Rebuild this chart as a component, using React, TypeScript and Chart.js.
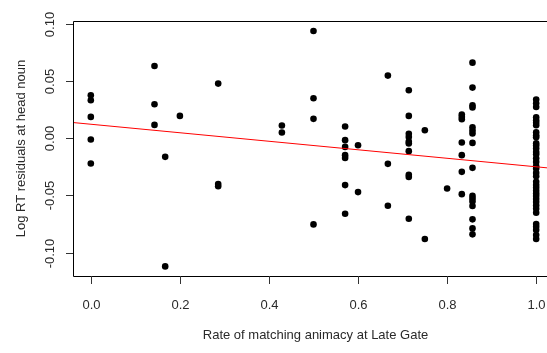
import React, { useEffect, useRef } from "react";
import { Chart, registerables } from "chart.js";

Chart.register(...registerables);

// Data
const xGroups = [0, 0.143, 0.167, 0.2, 0.286, 0.429, 0.5, 0.571, 0.6, 0.667, 0.714, 0.75, 0.8, 0.833, 0.857, 1.0];
const yGroups: number[][] = [
  [0.0375, 0.0332, 0.0186, -0.0011, -0.0221],
  [0.0631, 0.0297, 0.0116],
  [-0.0163, -0.112],
  [0.0195],
  [0.0477, -0.04, -0.042],
  [0.0111, 0.005],
  [0.0936, 0.0349, 0.0169, -0.0753],
  [0.0102, -0.0017, -0.0076, -0.0148, -0.0172, -0.041, -0.066],
  [-0.0061, -0.0471],
  [0.0547, -0.0224, -0.059],
  [0.0419, 0.0195, 0.0038, 0.0011, -0.003, -0.0046, -0.0113, -0.032, -0.0338, -0.0704],
  [0.007, -0.0881],
  [-0.0439],
  [0.0207, 0.0186, 0.0166, -0.0038, -0.0148, -0.0294, -0.0489],
  [0.066, 0.0442, 0.0288, 0.0268, 0.0096, 0.0067, 0.0041, -0.0041, -0.0259, -0.0503, -0.0526, -0.0552, -0.0593, -0.0709, -0.0788, -0.084],
  [0.0338, 0.0305, 0.0273, 0.0183, 0.0157, 0.0134, 0.0113, 0.0052, 0.0026, 0.0009, -0.0044, -0.0064, -0.009, -0.012, -0.014, -0.0175, -0.0207, -0.0244, -0.0264, -0.0303, -0.0332, -0.0381, -0.041, -0.0434, -0.046, -0.0483, -0.0506, -0.0532, -0.0558, -0.0587, -0.0617, -0.0652, -0.075, -0.0774, -0.0803, -0.0846, -0.0881],
];
const fitIntercept = 0.0122;
const fitSlope = -0.0372;

const xTicks = [0, 0.2, 0.4, 0.6, 0.8, 1.0];
const xTickLabels = ["0.0", "0.2", "0.4", "0.6", "0.8", "1.0"];
const yTicks = [-0.1, -0.05, 0, 0.05, 0.1];
const yTickLabels = ["-0.10", "-0.05", "0.00", "0.05", "0.10"];
const xTitle = "Rate of matching animacy at Late Gate";
const yTitle = "Log RT residuals at head noun";

const X_MIN = -0.04;
const X_MAX = 1.04;
const Y_MIN = -0.1204;
const Y_MAX = 0.1024;

const FONT = '13px "Liberation Sans", Arial, sans-serif';
const TEXT_COLOR = "#2a2a2a";

const axesPlugin = {
  id: "rAxes",
  afterDraw(chart: any) {
    const { ctx, chartArea, scales } = chart;
    const xs = scales.x;
    const ys = scales.y;
    ctx.save();
    // box
    ctx.strokeStyle = "#000";
    ctx.lineWidth = 1;
    ctx.beginPath();
    ctx.rect(Math.round(chartArea.left) + 0.5, Math.round(chartArea.top) + 0.5, chartArea.right - chartArea.left, chartArea.bottom - chartArea.top);
    ctx.stroke();

    ctx.strokeStyle = "#333";
    ctx.fillStyle = TEXT_COLOR;
    ctx.font = FONT;
    // x ticks
    ctx.textAlign = "center";
    ctx.textBaseline = "middle";
    xTicks.forEach((v, i) => {
      const px = Math.round(xs.getPixelForValue(v)) + 0.5;
      ctx.beginPath();
      ctx.moveTo(px, chartArea.bottom);
      ctx.lineTo(px, chartArea.bottom + 8);
      ctx.stroke();
      ctx.fillText(xTickLabels[i], px, 305);
    });
    // y ticks
    yTicks.forEach((v, i) => {
      const py = Math.round(ys.getPixelForValue(v)) + 0.5;
      ctx.beginPath();
      ctx.moveTo(chartArea.left, py);
      ctx.lineTo(chartArea.left - 7, py);
      ctx.stroke();
      ctx.save();
      ctx.translate(50, py);
      ctx.rotate(-Math.PI / 2);
      ctx.fillText(yTickLabels[i], 0, 0);
      ctx.restore();
    });
    // titles
    ctx.fillText(xTitle, (xs.getPixelForValue(0) + xs.getPixelForValue(1)) / 2 + 2, 335);
    ctx.save();
    ctx.translate(21, (chartArea.top + chartArea.bottom) / 2);
    ctx.rotate(-Math.PI / 2);
    ctx.fillText(yTitle, 0, 0);
    ctx.restore();
    ctx.restore();
  },
};

export default function App() {
  const ref = useRef<HTMLCanvasElement>(null);
  useEffect(() => {
    document.body.style.margin = "0";
    const points: { x: number; y: number }[] = [];
    xGroups.forEach((x, i) => yGroups[i].forEach((y) => points.push({ x, y })));
    const lineData = [X_MIN, X_MAX].map((x) => ({ x, y: fitIntercept + fitSlope * x }));
    const chart = new Chart(ref.current!, {
      type: "scatter",
      data: {
        datasets: [
          {
            type: "line",
            data: lineData,
            borderColor: "#ff0000",
            borderWidth: 1,
            pointRadius: 0,
            order: 0,
          } as any,
          {
            data: points,
            backgroundColor: "#000",
            borderColor: "#000",
            pointRadius: 3.3,
            borderWidth: 0,
            order: 1,
          },
        ],
      },
      options: {
        animation: false,
        responsive: false,
        events: [],
        layout: { padding: { left: 73, top: 21, right: 6, bottom: 77 } },
        plugins: { legend: { display: false }, tooltip: { enabled: false } },
        scales: {
          x: { type: "linear", min: X_MIN, max: X_MAX, display: false },
          y: { type: "linear", min: Y_MIN, max: Y_MAX, display: false },
        },
      },
      plugins: [axesPlugin],
    });
    return () => chart.destroy();
  }, []);
  return (
    <div style={{ position: "fixed", left: 0, top: 0, width: 547, height: 353, overflow: "hidden", background: "#fff" }}>
      <canvas ref={ref} width={560} height={353} style={{ display: "block" }} />
    </div>
  );
}
